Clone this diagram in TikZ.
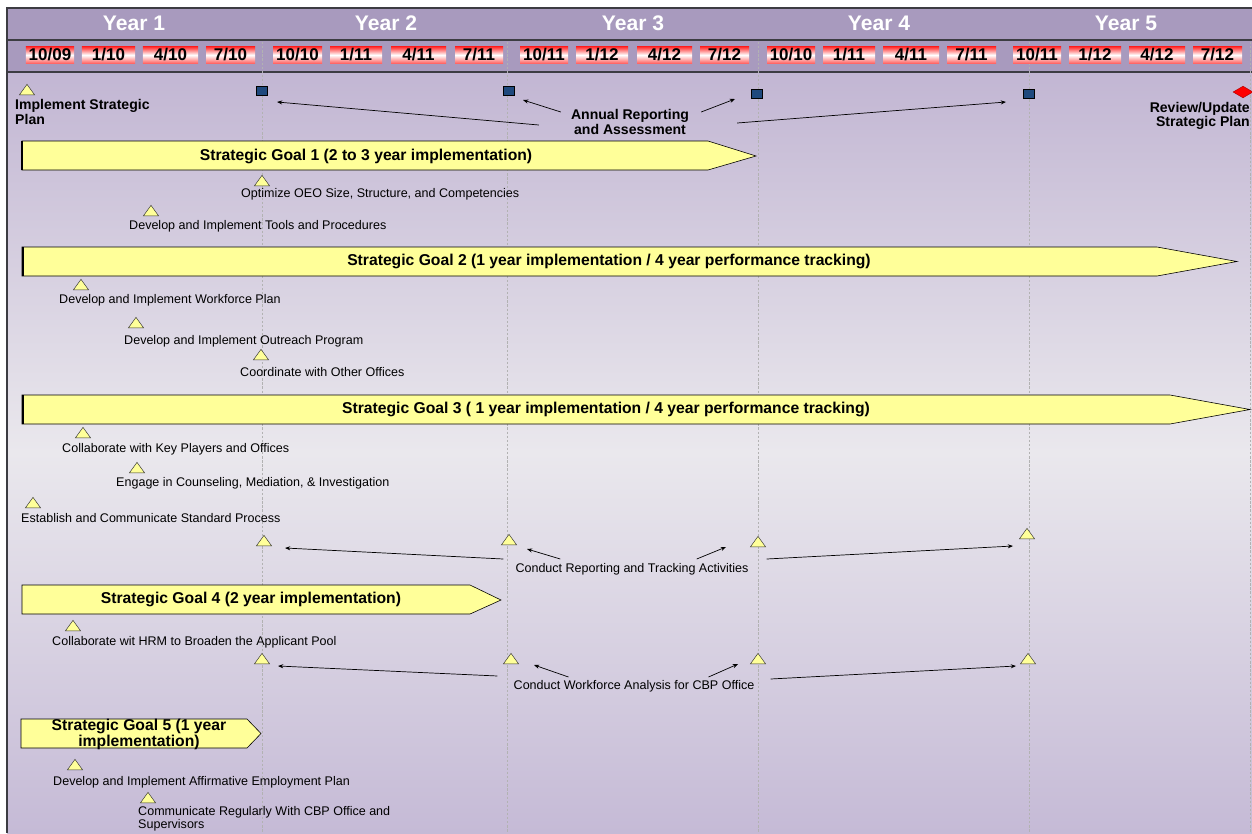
\documentclass[tikz,border=0pt]{standalone}
\usepackage{fontspec}
\setmainfont{Liberation Sans}
\usetikzlibrary{arrows.meta,calc,shapes.geometric}

\definecolor{hdrpurple}{RGB}{168,154,190}
\definecolor{bgtop}{RGB}{194,182,211}
\definecolor{bgmid}{RGB}{234,232,237}
\definecolor{bgbot}{RGB}{197,186,214}
\definecolor{msyellow}{RGB}{255,255,153}
\definecolor{rptblue}{RGB}{31,73,125}
\definecolor{framegray}{RGB}{60,60,66}

\tikzset{
  milestone/.style={isosceles triangle, isosceles triangle stretches, shape border rotate=90,
    draw=black!80, fill=msyellow, inner sep=0pt, minimum width=13pt, minimum height=9pt, line width=0.4pt},
  rptbox/.style={rectangle, draw=black, fill=rptblue, inner sep=0pt, minimum width=9.5pt, minimum height=8pt},
  reviewmark/.style={diamond, draw=red!70!black, fill=red, inner sep=0pt, minimum width=17pt, minimum height=10pt},
  goalbar/.style={draw=black, fill=msyellow, line width=0.5pt},
  goaltext/.style={font=\bfseries\fontsize{13.4}{12}\selectfont, align=center, inner sep=0pt},
  actlabel/.style={font=\fontsize{10.7}{9.6}\selectfont, anchor=west, inner sep=0pt, align=left},
  mslabel/.style={font=\bfseries\fontsize{12}{11}\selectfont, inner sep=0pt},
  conn/.style={-{Stealth[length=4.5pt,width=3.5pt]}, line width=0.6pt},
  datebox/.style={top color=red!80, bottom color=red!60, middle color=white, inner sep=0pt,
    minimum height=13.7pt, font=\bfseries\fontsize{14.5}{14}\selectfont},
  yearlabel/.style={font=\bfseries\fontsize{18}{18}\selectfont, text=white, inner sep=0pt},
  yearline/.style={gray!60, dash pattern=on 2pt off 1.5pt, line width=0.3pt},
}

\begin{document}
\begin{tikzpicture}[x=0.03cm,y=-0.03cm]
  \useasboundingbox (0,0) rectangle (1252,833);

  % background and header
  \fill[white] (0,0) rectangle (1252,833);
  \shade[top color=bgtop, bottom color=bgbot, middle color=bgmid] (7,72) rectangle (1252,833);
  \fill[hdrpurple] (7,8) rectangle (1252,72);
  \draw[framegray, line width=1.2pt] (7,833) -- (7,8) -- (1252,8);
  \draw[framegray, line width=1.2pt] (7,40) -- (1252,40);
  \draw[framegray, line width=1.2pt] (7,72) -- (1252,72);

  % year dividers
  \foreach \x in {262,507,758,1029,1250}
    \draw[yearline] (\x,42) -- (\x,833);

  % years and quarters
  \foreach \x [count=\i] in {134,386,633,879,1126}
    \node[yearlabel] (yr\i) at (\x,23) {Year \i};
  \foreach \xc/\w/\mo/\yr [count=\i] in {50/48/10/09, 108.5/53/1/10, 170.5/55/4/10, 230.5/49/7/10,
      297.5/49/10/10, 356/52/1/11, 418.5/55/4/11, 479/48/7/11,
      544/48/10/11, 602/52/1/12, 664.5/55/4/12, 724.5/49/7/12,
      791/48/10/10, 849/52/1/11, 911/56/4/11, 971.5/49/7/11,
      1037/48/10/11, 1095/52/1/12, 1157/56/4/12, 1217.5/49/7/12}
    \node[datebox, minimum width=\w*0.8536pt] (dt\i) at (\xc,55) {\mo/\yr};

  % plan milestones
  \node[milestone] (m0) at (27,91) {};
  \node[mslabel, anchor=west, align=left] (impl) at (15,112) {Implement Strategic\\Plan};
  \node[rptbox] (q1) at (262,91) {};
  \node[rptbox] (q2) at (509,91) {};
  \node[rptbox] (q3) at (757,94) {};
  \node[rptbox] (q4) at (1029,94) {};
  \node[reviewmark] (rv) at (1243,92) {};
  \node[mslabel, anchor=east, align=right] (rvl) at (1250,116) {Review/Update\\Strategic Plan};
  \node[mslabel, align=center] (ann) at (630,122) {Annual Reporting\\and Assessment};
  \draw[conn] ($(ann.west)+(-32,3)$) -- ($(q1)+(15,11)$);
  \draw[conn] ($(ann.west)+(-10,-10)$) -- ($(q2)+(14,9)$);
  \draw[conn] ($(ann.east)+(12,-10)$) -- ($(q3)+(-22,5)$);
  \draw[conn] ($(ann.east)+(48,1)$) -- ($(q4)+(-23,8)$);

  % goal 1
  \draw[goalbar] (22,141) -- (708,141) -- (756,156) -- (708,170) -- (22,170) -- cycle;
  \draw[line width=1.5pt] (22,141) -- (22,170);
  \node[goaltext] (g1) at (366,156) {Strategic Goal 1 (2 to 3 year implementation)};
  \node[milestone] (a11) at (262,182) {};
  \node[actlabel] (t11) at (241,194) {Optimize OEO Size, Structure, and Competencies};
  \node[milestone] (a12) at (151,212) {};
  \node[actlabel] (t12) at (129,226) {Develop and Implement Tools and Procedures};

  % goal 2
  \draw[goalbar] (22,247) -- (1157,247) -- (1237,261.5) -- (1157,276) -- (22,276) -- cycle;
  \draw[line width=2.2pt] (23,247) -- (23,276);
  \node[goaltext] (g2) at (609,261.5) {Strategic Goal 2 (1 year implementation / 4 year performance tracking)};
  \node[milestone] (a21) at (81,286) {};
  \node[actlabel] (t21) at (59,300) {Develop and Implement Workforce Plan};
  \node[milestone] (a22) at (136,324) {};
  \node[actlabel] (t22) at (124,341) {Develop and Implement Outreach Program};
  \node[milestone] (a23) at (261,356) {};
  \node[actlabel] (t23) at (240,372) {Coordinate with Other Offices};

  % goal 3
  \draw[goalbar] (22,395) -- (1170,395) -- (1250,409.5) -- (1170,424) -- (22,424) -- cycle;
  \draw[line width=2.2pt] (23,395) -- (23,424);
  \node[goaltext] (g3) at (606,409.5) {Strategic Goal 3 ( 1 year implementation / 4 year performance tracking)};
  \node[milestone] (a31) at (83,434) {};
  \node[actlabel] (t31) at (62,449) {Collaborate with Key Players and Offices};
  \node[milestone] (a32) at (137,469) {};
  \node[actlabel] (t32) at (116,483) {Engage in Counseling, Mediation, \& Investigation};
  \node[milestone] (a33) at (33,504) {};
  \node[actlabel] (t33) at (21,518) {Establish and Communicate Standard Process};
  \node[milestone] (r1) at (264,542) {};
  \node[milestone] (r2) at (509,541) {};
  \node[milestone] (r3) at (758,543) {};
  \node[milestone] (r4) at (1027,535) {};
  \node[actlabel, anchor=center] (rep) at (632,569) {Conduct Reporting and Tracking Activities};
  \draw[conn] ($(rep.west)+(-12,-10)$) -- ($(r1)+(21,6)$);
  \draw[conn] ($(rep.west)+(45,-10)$) -- ($(r2)+(18,8)$);
  \draw[conn] ($(rep.east)+(-52,-10)$) -- ($(r3)+(-32,4)$);
  \draw[conn] ($(rep.east)+(18,-10)$) -- ($(r4)+(-14,11)$);

  % goal 4
  \draw[goalbar] (22,585) -- (470,585) -- (501,600) -- (470,614) -- (22,614) -- cycle;
  \node[goaltext] (g4) at (251,599.5) {Strategic Goal 4 (2 year implementation)};
  \node[milestone] (a41) at (73,627) {};
  \node[actlabel] (t41) at (52,642) {Collaborate wit HRM to Broaden the Applicant Pool};
  \node[milestone] (w1) at (262,660) {};
  \node[milestone] (w2) at (511,660) {};
  \node[milestone] (w3) at (758,660) {};
  \node[milestone] (w4) at (1028,660) {};
  \node[actlabel, anchor=center] (wfa) at (634,686) {Conduct Workforce Analysis for CBP Office};
  \draw[conn] ($(wfa.west)+(-16,-10)$) -- ($(w1)+(16,6)$);
  \draw[conn] ($(wfa.west)+(55,-9)$) -- ($(w2)+(23,5)$);
  \draw[conn] ($(wfa.east)+(-46,-9)$) -- ($(w3)+(-20,4)$);
  \draw[conn] ($(wfa.east)+(16,-7)$) -- ($(w4)+(-12,6)$);

  % goal 5
  \draw[goalbar] (21,719) -- (247,719) -- (261,733.5) -- (247,748) -- (21,748) -- cycle;
  \node[goaltext] (g5) at (139,734) {Strategic Goal 5 (1 year\\implementation)};
  \node[milestone] (a51) at (75,766) {};
  \node[actlabel] (t51) at (53,782) {Develop and Implement Affirmative Employment Plan};
  \node[milestone] (a52) at (148,799) {};
  \node[actlabel] (t52) at (138,819) {Communicate Regularly With CBP Office and\\Supervisors};
\end{tikzpicture}
\end{document}
